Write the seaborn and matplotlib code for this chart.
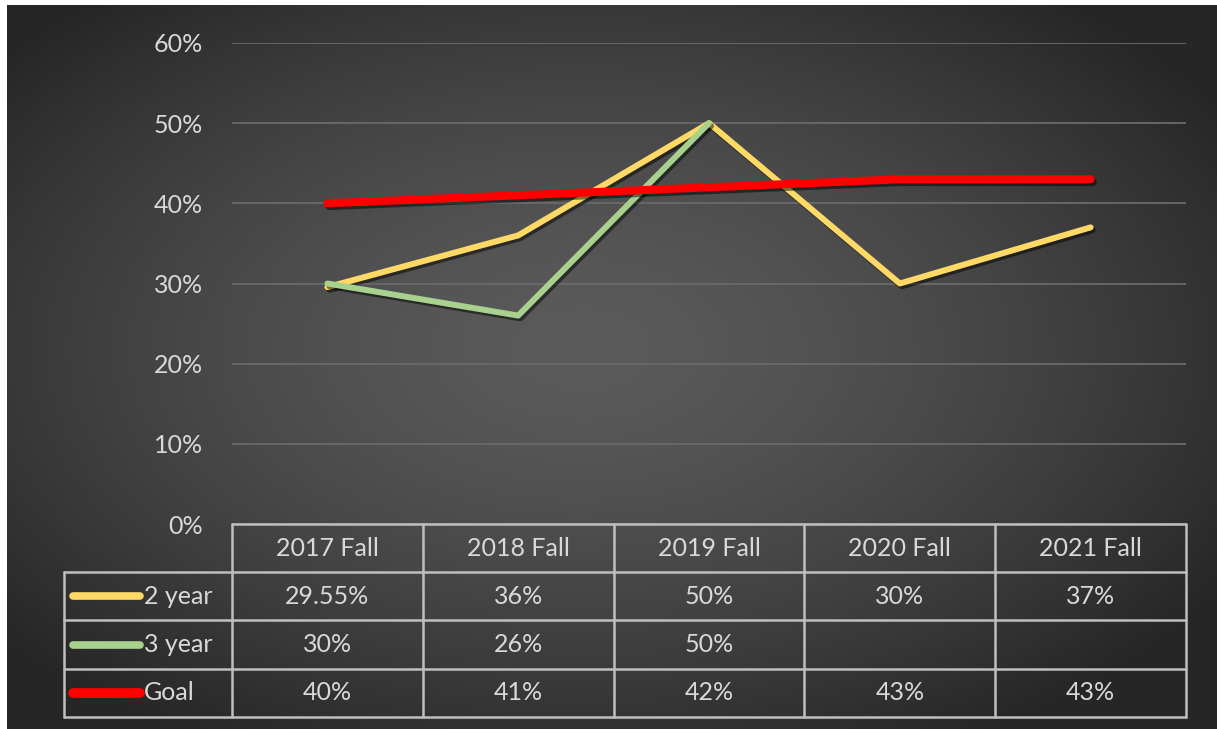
import numpy as np
import pandas as pd
import matplotlib.pyplot as plt
import matplotlib.patheffects as pe
import seaborn as sns

# data
categories = ["2017 Fall", "2018 Fall", "2019 Fall", "2020 Fall", "2021 Fall"]
two_year = [0.2955, 0.36, 0.50, 0.30, 0.37]
three_year = [0.30, 0.26, 0.50, np.nan, np.nan]
goal = [0.40, 0.41, 0.42, 0.43, 0.43]
series_names = ["2 year", "3 year", "Goal"]
y_ticks = [0.0, 0.1, 0.2, 0.3, 0.4, 0.5, 0.6]

colors = {"2 year": "#FFD966", "3 year": "#A9D18E", "Goal": "#FF0000"}
widths = {"2 year": 4.3, "3 year": 4.3, "Goal": 5.8}
TEXT = "#d9d9d9"
GRID = "#6a6a6a"
TABLE_LINE = "#bfbfbf"

df = pd.DataFrame({
    "term": categories * 3,
    "series": np.repeat(series_names, len(categories)),
    "rate": two_year + three_year + goal,
})

sns.set_style("dark")
plt.rcParams["font.family"] = ["Lato", "DejaVu Sans"]

W, H = 1217, 729
fig = plt.figure(figsize=(W / 100, H / 100), dpi=100)
fig.patch.set_facecolor("white")

# radial gradient chart area
bg = fig.add_axes([7 / W, 0, 1 - 7 / W, 1 - 5 / H])
gx, gy = np.meshgrid(np.linspace(-1, 1, 600), np.linspace(-1, 1, 360))
r = np.clip(np.sqrt((gx + 0.05) ** 2 + (gy + 0.05) ** 2) / 1.25, 0, 1)
shade = 0.355 - (0.355 - 0.15) * r ** 1.5
img = np.dstack([shade, shade, shade])
bg.imshow(img, aspect="auto", interpolation="bilinear")
bg.set_axis_off()


def px(x0, y0, x1, y1):
    return [x0 / W, 1 - y1 / H, (x1 - x0) / W, (y1 - y0) / H]


# plot area
left, right, top, bottom = 232, 1186, 43, 524
ax = fig.add_axes(px(left, top, right, bottom))
ax.set_facecolor("none")
for name in series_names:
    sub = df[df["series"] == name]
    sns.lineplot(data=sub, x="term", y="rate", color=colors[name],
                 linewidth=widths[name], sort=False, ax=ax, legend=False)
for line in ax.lines:
    line.set_solid_capstyle("round")
    line.set_solid_joinstyle("round")
    line.set_clip_on(False)
    line.set_path_effects([pe.SimpleLineShadow(offset=(1.5, -2), alpha=0.5),
                           pe.Normal()])

ax.set_xlim(-0.5, len(categories) - 0.5)
ax.set_ylim(0, 0.6)
ax.set_yticks(y_ticks)
ax.set_yticklabels([f"{int(round(t * 100))}%" for t in y_ticks])
ax.tick_params(axis="y", length=0, pad=21, labelsize=18, labelcolor=TEXT)
ax.set_xticks([])
ax.set_xlabel("")
ax.set_ylabel("")
ax.grid(axis="y", color=GRID, linewidth=1.3)
ax.grid(axis="x", visible=False)
for s in ax.spines.values():
    s.set_visible(False)

# data table under the plot, in pixel coordinates
tab = fig.add_axes([0, 0, 1, 1])
tab.set_xlim(0, W)
tab.set_ylim(H, 0)
tab.set_axis_off()
tab.patch.set_alpha(0)

col_w = (right - left) / len(categories)
col_edges = [left + i * col_w for i in range(len(categories) + 1)]
row_edges = [524, 572, 620, 669, 717]
label_left = 64
lw = 1.8

# horizontal lines
tab.plot([left, right], [row_edges[0]] * 2, color=TABLE_LINE, lw=lw)
for yv in row_edges[1:]:
    tab.plot([label_left, right], [yv] * 2, color=TABLE_LINE, lw=lw)
# vertical lines
tab.plot([label_left] * 2, [row_edges[1], row_edges[-1]], color=TABLE_LINE, lw=lw)
for xv in col_edges:
    tab.plot([xv] * 2, [row_edges[0], row_edges[-1]], color=TABLE_LINE, lw=lw)

fs = 18
for i, cat in enumerate(categories):
    cx = (col_edges[i] + col_edges[i + 1]) / 2
    tab.text(cx, (row_edges[0] + row_edges[1]) / 2, cat, color=TEXT,
             fontsize=fs, ha="center", va="center")

series_values = [two_year, three_year, goal]
for r_i, (name, vals) in enumerate(zip(series_names, series_values)):
    cy = (row_edges[r_i + 1] + row_edges[r_i + 2]) / 2
    tab.plot([73, 140], [cy, cy], color=colors[name], lw=widths[name] + 1.2,
             solid_capstyle="round")
    tab.text(144, cy, name, color=TEXT, fontsize=fs, ha="left", va="center")
    for i, v in enumerate(vals):
        if np.isnan(v):
            continue
        cx = (col_edges[i] + col_edges[i + 1]) / 2
        tab.text(cx, cy, f"{round(v * 100, 2):g}%", color=TEXT,
                 fontsize=fs, ha="center", va="center")

fig.savefig("out.png", dpi=100)
